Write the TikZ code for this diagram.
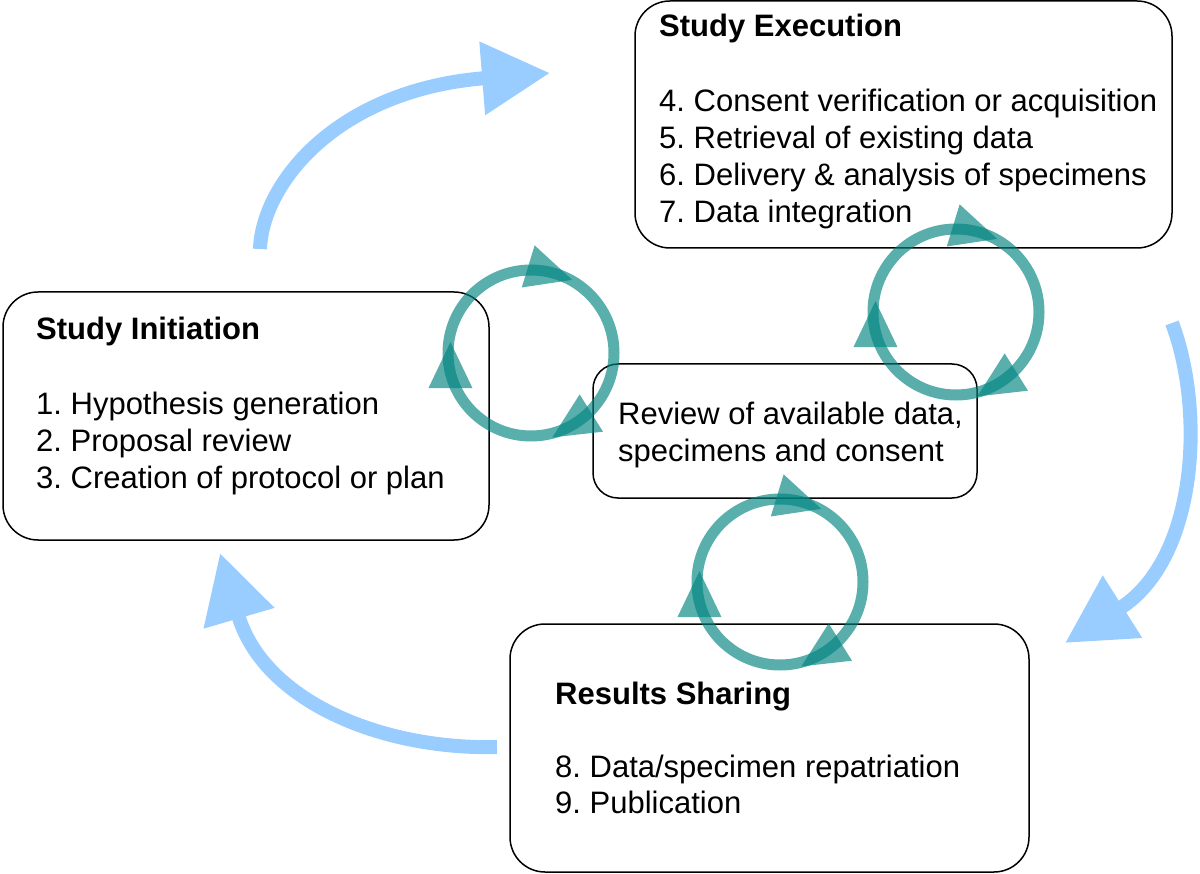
\documentclass[tikz,border=0pt]{standalone}
\usepackage{fontspec}
\setmainfont{Liberation Sans}
\usetikzlibrary{arrows.meta,calc}
\definecolor{flowblue}{RGB}{153,204,255}
\definecolor{ringteal}{RGB}{0,132,128}
\frenchspacing
% #1 ring centre, #2 position angle, #3 direction angle
\newcommand\ringhead[3]{%
  \fill[headfill] ($(#1)+(#2:83)+(#3:31)$) -- ($(#1)+(#2:83)+(#3+180:15)+(#3+90:22)$) -- ($(#1)+(#2:83)+(#3+180:15)+(#3-90:22)$) -- cycle;}
\begin{document}
\begin{tikzpicture}[x=1pt,y=-1pt,
  box/.style={draw=black, line width=1.5pt, fill=white, rounded corners=35pt},
  smallbox/.style={box, rounded corners=25pt},
  title/.style={anchor=base west, inner sep=0pt, font=\fontsize{31}{37}\selectfont\bfseries},
  item/.style={anchor=base west, inner sep=0pt, font=\fontsize{31}{37}\selectfont},
  ring/.style={draw=ringteal, draw opacity=0.65, line width=11pt},
  headfill/.style={fill=ringteal, fill opacity=0.65},
  flow/.style={draw=flowblue, line width=14pt, -{Triangle[length=68pt,width=70pt]}}]
\useasboundingbox (0,0) rectangle (1200,874);

% boxes
\node[box, minimum width=537pt, minimum height=247pt] (exec) at (903.5,124.5) {};
\node[box, minimum width=486pt, minimum height=248pt] (init) at (246,416) {};
\node[smallbox, minimum width=384pt, minimum height=134pt] (review) at (785,431) {};
\node[box, minimum width=519pt, minimum height=248pt] (share) at (769.5,748) {};

% texts
\node[title] (t1) at (659,37) {Study Execution};
\node[item] (t2) at (659,112) {4. Consent verification or acquisition};
\node[item] (t3) at (659,149) {5. Retrieval of existing data};
\node[item] (t4) at (659,186) {6. Delivery \& analysis of specimens};
\node[item] (t5) at (659,223) {7. Data integration};

\node[title] (t6) at (36,340) {Study Initiation};
\node[item] (t7) at (36,415) {1. Hypothesis generation};
\node[item] (t8) at (36,452) {2. Proposal review};
\node[item] (t9) at (36,489) {3. Creation of protocol or plan};

\node[item] (t10) at (618,425) {Review of available data,};
\node[item] (t11) at (618,461) {specimens and consent};

\node[title] (t12) at (555,704) {Results Sharing};
\node[item] (t13) at (555,777) {8. Data/specimen repatriation};
\node[item] (t14) at (555,813) {9. Publication};

% rings
\coordinate (c1) at (531,353);
\coordinate (c2) at (956,312);
\coordinate (c3) at (780,582);
\foreach \c in {c1,c2,c3}{
  \draw[ring] (\c) circle[radius=83];
  \ringhead{\c}{-82}{17}
  \ringhead{\c}{166}{270}
  \ringhead{\c}{55}{148}
}

% big flow arrows
\coordinate (a1s) at (260,249);
\coordinate (a1e) at (550,73);
\coordinate (a2s) at (1172,323);
\coordinate (a2e) at (1065,643);
\coordinate (a3s) at (497,747);
\coordinate (a3e) at (220,553);
\draw[flow] (a1s) .. controls (262,185) and (335,90) .. (a1e);
\draw[flow] (a2s) .. controls (1205,410) and (1198,559) .. (a2e);
\draw[flow] (a3s) .. controls (380,750) and (263,700) .. (a3e);
\end{tikzpicture}
\end{document}
